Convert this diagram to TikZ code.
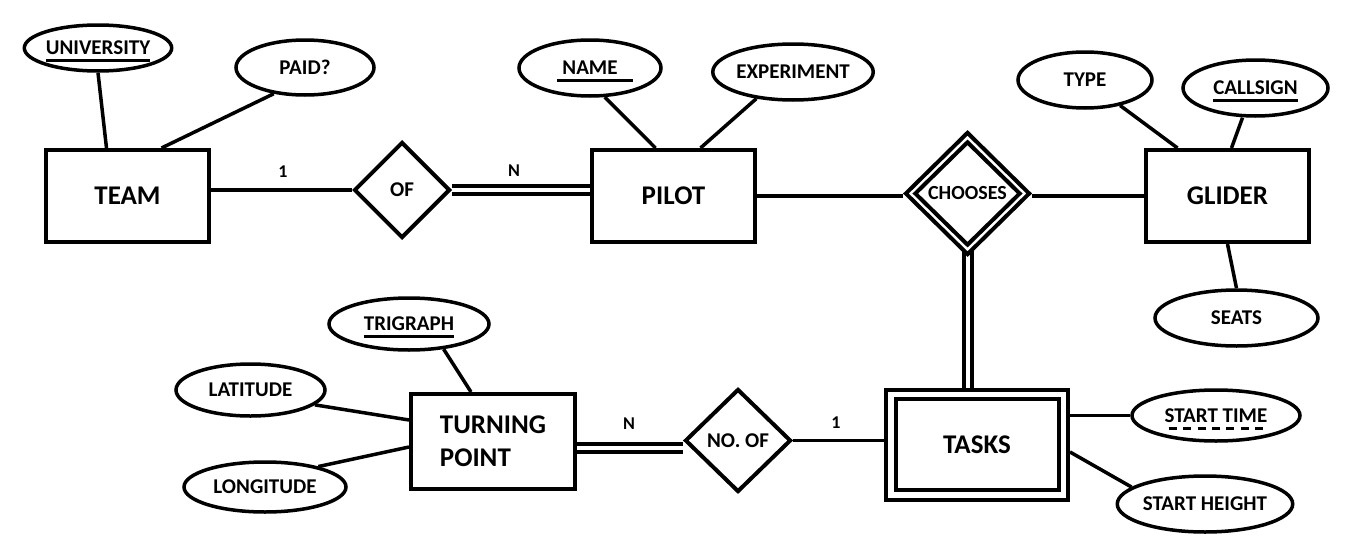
\documentclass[tikz,border=0pt]{standalone}
\usepackage{fontspec}
\setmainfont{Carlito}
\usetikzlibrary{shapes.geometric,backgrounds,calc}
\newcommand\myul[1]{\setbox0\hbox{#1}\rlap{\vrule height -4.5pt depth 7.5pt width \wd0}\box0}
\newcommand\mydul[1]{\setbox0\hbox{#1}\rlap{\hbox to \wd0{\xleaders\hbox to 13pt{\hss\vrule height -4.5pt depth 7.5pt width 8pt\hss}\hfill}}\box0}
\tikzset{
  ent/.style={draw, line width=4pt, minimum width=163pt, minimum height=92pt, inner sep=0pt, fill=white, font=\bfseries\fontsize{27}{33}\selectfont},
  att/.style={draw, ellipse, line width=3.5pt, inner sep=0pt, fill=white, text depth=0pt, font=\bfseries\fontsize{21}{24}\selectfont},
  rel/.style={draw, diamond, line width=4pt, inner sep=0pt, fill=white, font=\bfseries\fontsize{21}{24}\selectfont},
  link/.style={line width=3.5pt},
  dbl/.style={line width=4pt, double, double distance=4pt},
  card/.style={font=\bfseries\fontsize{18}{20}\selectfont, inner sep=0pt}
}
\begin{document}
\begin{tikzpicture}[x=1pt,y=-1pt]
\useasboundingbox (0,0) rectangle (1355,554);
% entities
\node[ent] (team) at (127.5,196) {TEAM};
\node[ent] (pilot) at (673.5,196) {PILOT};
\node[ent] (glider) at (1227.5,196) {GLIDER};
\node[ent, minimum width=164pt, minimum height=95pt, align=left] (turn) at (493,441.5) {TURNING\\POINT};
\node[ent, minimum width=182pt, minimum height=110pt] (tasks) at (977,445) {TASKS};
\draw[line width=4pt] ([shift={(12,11)}]tasks.north west) rectangle ([shift={(-11,-12)}]tasks.south east);
% relationships
\node[rel, minimum width=96pt, minimum height=96pt] (of) at (402,190) {OF};
\node[rel, minimum width=125pt, minimum height=123pt] (choose) at (967.5,193.5) {};
\node[rel, minimum width=106pt, minimum height=104pt, font=\bfseries\fontsize{20}{24}\selectfont] (choosein) at (967.5,193.5) {CHOOSES};
\node[rel, minimum width=106pt, minimum height=103pt] (noof) at (738,440.5) {NO. OF};
% attributes
\node[att, minimum width=136pt, minimum height=46pt] (univ) at (98,48) {\myul{UNIVERSITY}};
\node[att, minimum width=138pt, minimum height=55pt] (paid) at (305,67.5) {PAID?};
\node[att, minimum width=142pt, minimum height=56pt] (name) at (590,68) {\rlap{\hspace*{-5pt}\vrule height -4.5pt depth 7.5pt width 76pt}NAME\hspace{12pt}};
\node[att, minimum width=156pt, minimum height=56pt] (exp) at (793,72) {EXPERIMENT};
\node[att, minimum width=134pt, minimum height=56pt] (type) at (1085,80) {TYPE};
\node[att, minimum width=145pt, minimum height=56pt] (call) at (1255.5,88) {\myul{CALLSIGN}};
\node[att, minimum width=163pt, minimum height=56pt] (seats) at (1236.5,318) {SEATS};
\node[att, minimum width=160pt, minimum height=52pt] (tri) at (409,324) {\myul{TRIGRAPH}};
\node[att, minimum width=149pt, minimum height=52pt] (lat) at (250.5,390) {LATITUDE};
\node[att, minimum width=162pt, minimum height=50pt] (long) at (265,487) {LONGITUDE};
\node[att, minimum width=168pt, minimum height=51pt] (st) at (1216,415.5) {\mydul{START TIME}};
\node[att, minimum width=166pt, minimum height=56pt] (sh) at (1205,504) {START HEIGHT};
% cardinalities
\node[card] (c1) at (283,172) {1};
\node[card] (c2) at (514,171) {N};
\node[card] (c3) at (629,424) {N};
\node[card] (c4) at (836,423) {1};
% connectors
\begin{scope}[on background layer]
\fill[white] (0,0) rectangle (1355,554);
\draw[link] (univ.south) -- ([xshift=-21pt]team.north);
\draw[link] (paid.220) -- ([xshift=34pt]team.north);
\draw[link] (of.west) -- (of.west -| team.east);
\draw[dbl] (of.east) -- (of.east -| pilot.west);
\draw[link] (name.297) -- ([xshift=-18pt]pilot.north);
\draw[link] (exp.216) -- ([xshift=27pt]pilot.north);
\draw[link] ([yshift=-2.5pt]choose.west) -- ([yshift=-2.5pt]choose.west -| pilot.east);
\draw[link] ([yshift=-2.5pt]choose.east) -- ([yshift=-2.5pt]choose.east -| glider.west);
\draw[link] (type.324) -- ([xshift=-50pt]glider.north);
\draw[link] ([xshift=-13pt]call.south) -- ([xshift=4pt]glider.north);
\draw[link] (glider.south) -- (seats.north);
\draw[dbl] ([yshift=10pt]choose.south) -- (choose.south |- tasks.north);
\draw[link] (tri.324) -- ([xshift=-22pt]turn.north);
\draw[link] (lat.-13) -- ([yshift=21.5pt]turn.west);
\draw[link] (long.21) -- ([yshift=-5.5pt]turn.west);
\draw[dbl] ([yshift=-6.5pt]turn.east) -- ([yshift=-6.5pt]turn.east -| noof.west);
\draw[link] (noof.east) -- (noof.east -| tasks.west);
\draw[link] (st.west) -- (st.west -| tasks.east);
\draw[link] (sh.167) -- ([yshift=-7pt]tasks.east);
\end{scope}
\end{tikzpicture}
\end{document}
